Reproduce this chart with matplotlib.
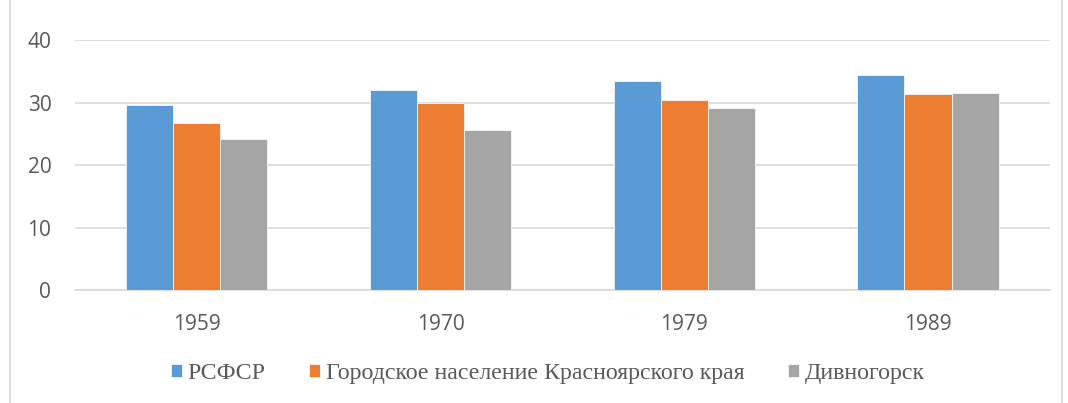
import matplotlib
matplotlib.use("Agg")
import matplotlib.pyplot as plt
import numpy as np
from matplotlib.patches import Rectangle

years = ["1959", "1970", "1979", "1989"]
series_names = ["РСФСР", "Городское население Красноярского края", "Дивногорск"]
rsfsr = [29.6, 32.0, 33.4, 34.4]
krasnoyarsk_urban = [26.8, 30.0, 30.4, 31.4]
divnogorsk = [24.1, 25.6, 29.1, 31.6]
colors = ["#5b9bd5", "#ed7d31", "#a5a5a5"]

fig = plt.figure(figsize=(10.68, 4.03), dpi=100)
ax = fig.add_axes([0.0702, 0.2797, 0.9128, 0.621])

x = np.arange(len(years))
w = 0.193
for i, (vals, name, c) in enumerate(zip([rsfsr, krasnoyarsk_urban, divnogorsk], series_names, colors)):
    ax.bar(x + (i - 1) * w, vals, width=w, color=c, label=name, zorder=3,
           edgecolor="white", linewidth=0.5)

ax.set_xlim(-0.5, len(years) - 0.5)
ax.set_ylim(0, 40)
ax.set_yticks([0, 10, 20, 30, 40])
ax.grid(axis="y", color="#d9d9d9", linewidth=1.2, zorder=0)
for s in ["top", "right", "left"]:
    ax.spines[s].set_visible(False)
ax.spines["bottom"].set_color("#d9d9d9")
ax.spines["bottom"].set_linewidth(1.2)
ax.set_xticks(x)
ax.set_xticklabels(years)
ax.tick_params(axis="both", length=0, labelsize=15, labelcolor="#595959")
ax.tick_params(axis="x", pad=17)
ax.tick_params(axis="y", pad=17)
for lab in ax.get_xticklabels() + ax.get_yticklabels():
    lab.set_fontfamily("Open Sans")

leg = fig.legend(loc="center", bbox_to_anchor=(0.513, 0.072), ncol=3, frameon=False,
                 prop={"family": ["Liberation Serif", "DejaVu Serif"], "size": 17.2},
                 handlelength=0.46, handleheight=0.46, handletextpad=0.22,
                 columnspacing=1.84)
for t in leg.get_texts():
    t.set_color("#595959")

fig.patches.append(Rectangle((0.0095, -0.01), 0.985, 1.02, transform=fig.transFigure,
                             fill=False, edgecolor="#d9d9d9", linewidth=1.2))

fig.savefig("out.png", dpi=100)
